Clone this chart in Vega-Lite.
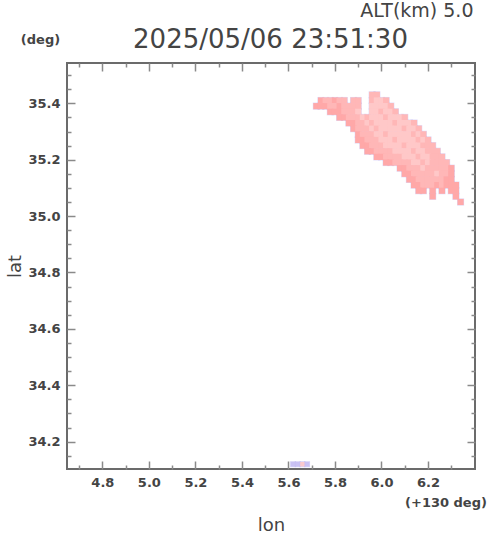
{
  "$schema": "https://vega.github.io/schema/vega-lite/v6.json",
  "width": 408,
  "height": 406,
  "autosize": {"type": "none"},
  "padding": {"left": 67, "top": 63, "right": 15, "bottom": 64},
  "background": "white",
  "config": {
    "view": {"stroke": "#6b6b6b", "strokeWidth": 2},
    "axis": {"grid": false, "domain": false, "zindex": 1, "tickColor": "#8a8a8a", "tickWidth": 1.5,
      "labelFont": "DejaVu Sans", "labelFontWeight": "bold", "labelFontSize": 13, "labelColor": "#444444",
      "titleFont": "DejaVu Sans", "titleColor": "#444444", "titleFontWeight": "normal", "labelOverlap": false, "labelFlush": false, "labelBound": false}
  },
  "datasets": {
    "main": [
      {"lon":135.96,"lat":35.43,"c":"c"},{"lon":135.98,"lat":35.43,"c":"c"},
      {"lon":135.74,"lat":35.41,"c":"d"},{"lon":135.76,"lat":35.41,"c":"c"},{"lon":135.78,"lat":35.41,"c":"c"},{"lon":135.80,"lat":35.41,"c":"d"},{"lon":135.82,"lat":35.41,"c":"c"},{"lon":135.84,"lat":35.41,"c":"c"},{"lon":135.88,"lat":35.41,"c":"c"},{"lon":135.90,"lat":35.41,"c":"c"},{"lon":135.96,"lat":35.41,"c":"c"},{"lon":135.98,"lat":35.41,"c":"b"},{"lon":136.00,"lat":35.41,"c":"b"},{"lon":136.02,"lat":35.41,"c":"c"},
      {"lon":135.72,"lat":35.39,"c":"d"},{"lon":135.74,"lat":35.39,"c":"d"},{"lon":135.76,"lat":35.39,"c":"d"},{"lon":135.78,"lat":35.39,"c":"c"},{"lon":135.80,"lat":35.39,"c":"c"},{"lon":135.82,"lat":35.39,"c":"d"},{"lon":135.84,"lat":35.39,"c":"c"},{"lon":135.86,"lat":35.39,"c":"c"},{"lon":135.88,"lat":35.39,"c":"c"},{"lon":135.90,"lat":35.39,"c":"c"},{"lon":135.96,"lat":35.39,"c":"b"},{"lon":135.98,"lat":35.39,"c":"b"},{"lon":136.00,"lat":35.39,"c":"b"},{"lon":136.02,"lat":35.39,"c":"b"},{"lon":136.04,"lat":35.39,"c":"c"},
      {"lon":135.78,"lat":35.37,"c":"d"},{"lon":135.80,"lat":35.37,"c":"d"},{"lon":135.82,"lat":35.37,"c":"d"},{"lon":135.84,"lat":35.37,"c":"c"},{"lon":135.86,"lat":35.37,"c":"c"},{"lon":135.88,"lat":35.37,"c":"c"},{"lon":135.90,"lat":35.37,"c":"b"},{"lon":135.96,"lat":35.37,"c":"b"},{"lon":135.98,"lat":35.37,"c":"b"},{"lon":136.00,"lat":35.37,"c":"c"},{"lon":136.02,"lat":35.37,"c":"b"},{"lon":136.04,"lat":35.37,"c":"b"},{"lon":136.06,"lat":35.37,"c":"c"},
      {"lon":135.82,"lat":35.35,"c":"d"},{"lon":135.84,"lat":35.35,"c":"d"},{"lon":135.86,"lat":35.35,"c":"c"},{"lon":135.88,"lat":35.35,"c":"c"},{"lon":135.90,"lat":35.35,"c":"c"},{"lon":135.92,"lat":35.35,"c":"b"},{"lon":135.94,"lat":35.35,"c":"c"},{"lon":135.96,"lat":35.35,"c":"b"},{"lon":135.98,"lat":35.35,"c":"b"},{"lon":136.00,"lat":35.35,"c":"b"},{"lon":136.02,"lat":35.35,"c":"c"},{"lon":136.04,"lat":35.35,"c":"b"},{"lon":136.06,"lat":35.35,"c":"b"},{"lon":136.08,"lat":35.35,"c":"b"},{"lon":136.10,"lat":35.35,"c":"c"},
      {"lon":135.86,"lat":35.33,"c":"d"},{"lon":135.88,"lat":35.33,"c":"d"},{"lon":135.90,"lat":35.33,"c":"c"},{"lon":135.92,"lat":35.33,"c":"c"},{"lon":135.94,"lat":35.33,"c":"b"},{"lon":135.96,"lat":35.33,"c":"c"},{"lon":135.98,"lat":35.33,"c":"b"},{"lon":136.00,"lat":35.33,"c":"b"},{"lon":136.02,"lat":35.33,"c":"b"},{"lon":136.04,"lat":35.33,"c":"b"},{"lon":136.06,"lat":35.33,"c":"c"},{"lon":136.08,"lat":35.33,"c":"b"},{"lon":136.10,"lat":35.33,"c":"b"},{"lon":136.12,"lat":35.33,"c":"b"},{"lon":136.14,"lat":35.33,"c":"c"},
      {"lon":135.88,"lat":35.31,"c":"d"},{"lon":135.90,"lat":35.31,"c":"c"},{"lon":135.92,"lat":35.31,"c":"c"},{"lon":135.94,"lat":35.31,"c":"c"},{"lon":135.96,"lat":35.31,"c":"b"},{"lon":135.98,"lat":35.31,"c":"c"},{"lon":136.00,"lat":35.31,"c":"b"},{"lon":136.02,"lat":35.31,"c":"b"},{"lon":136.04,"lat":35.31,"c":"b"},{"lon":136.06,"lat":35.31,"c":"b"},{"lon":136.08,"lat":35.31,"c":"b"},{"lon":136.10,"lat":35.31,"c":"c"},{"lon":136.12,"lat":35.31,"c":"b"},{"lon":136.14,"lat":35.31,"c":"b"},{"lon":136.16,"lat":35.31,"c":"c"},
      {"lon":135.90,"lat":35.29,"c":"d"},{"lon":135.92,"lat":35.29,"c":"c"},{"lon":135.94,"lat":35.29,"c":"c"},{"lon":135.96,"lat":35.29,"c":"c"},{"lon":135.98,"lat":35.29,"c":"b"},{"lon":136.00,"lat":35.29,"c":"b"},{"lon":136.02,"lat":35.29,"c":"c"},{"lon":136.04,"lat":35.29,"c":"b"},{"lon":136.06,"lat":35.29,"c":"b"},{"lon":136.08,"lat":35.29,"c":"b"},{"lon":136.10,"lat":35.29,"c":"b"},{"lon":136.12,"lat":35.29,"c":"b"},{"lon":136.14,"lat":35.29,"c":"c"},{"lon":136.16,"lat":35.29,"c":"b"},{"lon":136.18,"lat":35.29,"c":"c"},
      {"lon":135.90,"lat":35.27,"c":"d"},{"lon":135.92,"lat":35.27,"c":"d"},{"lon":135.94,"lat":35.27,"c":"c"},{"lon":135.96,"lat":35.27,"c":"c"},{"lon":135.98,"lat":35.27,"c":"c"},{"lon":136.00,"lat":35.27,"c":"b"},{"lon":136.02,"lat":35.27,"c":"b"},{"lon":136.04,"lat":35.27,"c":"b"},{"lon":136.06,"lat":35.27,"c":"c"},{"lon":136.08,"lat":35.27,"c":"b"},{"lon":136.10,"lat":35.27,"c":"b"},{"lon":136.12,"lat":35.27,"c":"b"},{"lon":136.14,"lat":35.27,"c":"b"},{"lon":136.16,"lat":35.27,"c":"c"},{"lon":136.18,"lat":35.27,"c":"b"},{"lon":136.20,"lat":35.27,"c":"c"},
      {"lon":135.92,"lat":35.25,"c":"d"},{"lon":135.94,"lat":35.25,"c":"d"},{"lon":135.96,"lat":35.25,"c":"c"},{"lon":135.98,"lat":35.25,"c":"c"},{"lon":136.00,"lat":35.25,"c":"c"},{"lon":136.02,"lat":35.25,"c":"b"},{"lon":136.04,"lat":35.25,"c":"b"},{"lon":136.06,"lat":35.25,"c":"b"},{"lon":136.08,"lat":35.25,"c":"b"},{"lon":136.10,"lat":35.25,"c":"c"},{"lon":136.12,"lat":35.25,"c":"b"},{"lon":136.14,"lat":35.25,"c":"b"},{"lon":136.16,"lat":35.25,"c":"b"},{"lon":136.18,"lat":35.25,"c":"c"},{"lon":136.20,"lat":35.25,"c":"c"},{"lon":136.22,"lat":35.25,"c":"c"},
      {"lon":135.94,"lat":35.23,"c":"d"},{"lon":135.96,"lat":35.23,"c":"d"},{"lon":135.98,"lat":35.23,"c":"c"},{"lon":136.00,"lat":35.23,"c":"c"},{"lon":136.02,"lat":35.23,"c":"c"},{"lon":136.04,"lat":35.23,"c":"c"},{"lon":136.06,"lat":35.23,"c":"b"},{"lon":136.08,"lat":35.23,"c":"b"},{"lon":136.10,"lat":35.23,"c":"b"},{"lon":136.12,"lat":35.23,"c":"b"},{"lon":136.14,"lat":35.23,"c":"c"},{"lon":136.16,"lat":35.23,"c":"b"},{"lon":136.18,"lat":35.23,"c":"b"},{"lon":136.20,"lat":35.23,"c":"c"},{"lon":136.22,"lat":35.23,"c":"c"},{"lon":136.24,"lat":35.23,"c":"c"},
      {"lon":135.98,"lat":35.21,"c":"d"},{"lon":136.00,"lat":35.21,"c":"d"},{"lon":136.02,"lat":35.21,"c":"c"},{"lon":136.04,"lat":35.21,"c":"c"},{"lon":136.06,"lat":35.21,"c":"c"},{"lon":136.08,"lat":35.21,"c":"c"},{"lon":136.10,"lat":35.21,"c":"b"},{"lon":136.12,"lat":35.21,"c":"b"},{"lon":136.14,"lat":35.21,"c":"b"},{"lon":136.16,"lat":35.21,"c":"c"},{"lon":136.18,"lat":35.21,"c":"b"},{"lon":136.20,"lat":35.21,"c":"b"},{"lon":136.22,"lat":35.21,"c":"c"},{"lon":136.24,"lat":35.21,"c":"c"},{"lon":136.26,"lat":35.21,"c":"c"},
      {"lon":136.02,"lat":35.19,"c":"d"},{"lon":136.04,"lat":35.19,"c":"d"},{"lon":136.06,"lat":35.19,"c":"c"},{"lon":136.08,"lat":35.19,"c":"c"},{"lon":136.10,"lat":35.19,"c":"c"},{"lon":136.12,"lat":35.19,"c":"c"},{"lon":136.14,"lat":35.19,"c":"b"},{"lon":136.16,"lat":35.19,"c":"b"},{"lon":136.18,"lat":35.19,"c":"c"},{"lon":136.20,"lat":35.19,"c":"b"},{"lon":136.22,"lat":35.19,"c":"c"},{"lon":136.24,"lat":35.19,"c":"c"},{"lon":136.26,"lat":35.19,"c":"c"},{"lon":136.28,"lat":35.19,"c":"c"},
      {"lon":136.08,"lat":35.17,"c":"d"},{"lon":136.10,"lat":35.17,"c":"d"},{"lon":136.12,"lat":35.17,"c":"c"},{"lon":136.14,"lat":35.17,"c":"c"},{"lon":136.16,"lat":35.17,"c":"c"},{"lon":136.18,"lat":35.17,"c":"b"},{"lon":136.20,"lat":35.17,"c":"c"},{"lon":136.22,"lat":35.17,"c":"c"},{"lon":136.24,"lat":35.17,"c":"c"},{"lon":136.26,"lat":35.17,"c":"c"},{"lon":136.28,"lat":35.17,"c":"c"},{"lon":136.30,"lat":35.17,"c":"d"},
      {"lon":136.10,"lat":35.15,"c":"d"},{"lon":136.12,"lat":35.15,"c":"d"},{"lon":136.14,"lat":35.15,"c":"c"},{"lon":136.16,"lat":35.15,"c":"c"},{"lon":136.18,"lat":35.15,"c":"c"},{"lon":136.20,"lat":35.15,"c":"c"},{"lon":136.22,"lat":35.15,"c":"c"},{"lon":136.24,"lat":35.15,"c":"b"},{"lon":136.26,"lat":35.15,"c":"c"},{"lon":136.28,"lat":35.15,"c":"c"},{"lon":136.30,"lat":35.15,"c":"d"},
      {"lon":136.12,"lat":35.13,"c":"d"},{"lon":136.14,"lat":35.13,"c":"d"},{"lon":136.16,"lat":35.13,"c":"c"},{"lon":136.18,"lat":35.13,"c":"c"},{"lon":136.20,"lat":35.13,"c":"c"},{"lon":136.22,"lat":35.13,"c":"c"},{"lon":136.24,"lat":35.13,"c":"c"},{"lon":136.26,"lat":35.13,"c":"c"},{"lon":136.28,"lat":35.13,"c":"d"},{"lon":136.30,"lat":35.13,"c":"d"},
      {"lon":136.14,"lat":35.11,"c":"d"},{"lon":136.16,"lat":35.11,"c":"d"},{"lon":136.18,"lat":35.11,"c":"c"},{"lon":136.20,"lat":35.11,"c":"c"},{"lon":136.22,"lat":35.11,"c":"c"},{"lon":136.24,"lat":35.11,"c":"d"},{"lon":136.26,"lat":35.11,"c":"c"},{"lon":136.28,"lat":35.11,"c":"d"},{"lon":136.30,"lat":35.11,"c":"d"},{"lon":136.32,"lat":35.11,"c":"d"},
      {"lon":136.16,"lat":35.09,"c":"d"},{"lon":136.18,"lat":35.09,"c":"d"},{"lon":136.22,"lat":35.09,"c":"d"},{"lon":136.26,"lat":35.09,"c":"d"},{"lon":136.30,"lat":35.09,"c":"d"},{"lon":136.32,"lat":35.09,"c":"d"},
      {"lon":136.22,"lat":35.07,"c":"d"},{"lon":136.32,"lat":35.07,"c":"d"},
      {"lon":136.34,"lat":35.05,"c":"d"}
    ],
    "patch": [
      {"lon":135.62,"lat":34.12,"c":"l"},{"lon":135.64,"lat":34.12,"c":"l"},{"lon":135.66,"lat":34.12,"c":"b"},{"lon":135.68,"lat":34.12,"c":"l"}
    ]
  },
  "layer": [
    {
      "data": {"name": "main"},
      "mark": {"type": "square", "size": 50, "color": "#bdb4f2", "opacity": 0.5},
      "encoding": {
        "x": {"field": "lon", "type": "quantitative",
          "scale": {"domain": [134.648, 136.402], "nice": false, "zero": false},
          "axis": {"orient": "bottom", "values": [134.8,135.0,135.2,135.4,135.6,135.8,136.0,136.2],
            "tickSize": -8, "labelPadding": 15,
            "labelExpr": "format(datum.value - 130, '.1f')",
            "title": "lon", "titleFontSize": 18, "titleX": 204, "titleY": 61, "titleBaseline": "alphabetic", "titleAlign": "center"}},
        "y": {"field": "lat", "type": "quantitative",
          "scale": {"domain": [34.103, 35.543], "nice": false, "zero": false},
          "axis": {"orient": "left", "values": [34.2,34.4,34.6,34.8,35.0,35.2,35.4],
            "tickSize": -8, "labelPadding": 15, "format": ".1f",
            "title": "lat", "titleFontSize": 18, "titleX": -47, "titleY": 203, "titleAngle": 270, "titleBaseline": "alphabetic", "titleAlign": "center"}}
      }
    },
    {
      "data": {"name": "main"},
      "mark": {"type": "square", "size": 38, "opacity": 1},
      "encoding": {
        "x": {"field": "lon", "type": "quantitative",
          "scale": {"domain": [134.648, 136.402], "nice": false, "zero": false},
          "axis": {"orient": "bottom", "values": [134.7,134.9,135.1,135.3,135.5,135.7,135.9,136.1,136.3],
            "tickSize": -4, "labels": false, "title": null}},
        "y": {"field": "lat", "type": "quantitative",
          "scale": {"domain": [34.103, 35.543], "nice": false, "zero": false},
          "axis": {"orient": "left", "values": [34.15,34.25,34.3,34.35,34.45,34.5,34.55,34.65,34.7,34.75,34.85,34.9,34.95,35.05,35.1,35.15,35.25,35.3,35.35,35.45,35.5],
            "tickSize": -4, "labels": false,
            "title": "(deg)", "titleFontSize": 13, "titleFontWeight": "bold", "titleAngle": 0, "titleX": -27, "titleY": -20, "titleBaseline": "alphabetic", "titleAlign": "center"}},
        "color": {"field": "c", "type": "nominal", "legend": null,
          "scale": {"domain": ["b", "c", "d", "l"], "range": ["#ffc8c8", "#ffb7b7", "#ffa8a8", "#c9c0f3"]}}
      }
    },
    {
      "data": {"name": "patch"},
      "mark": {"type": "square", "size": 36, "color": "#bdb4f2", "opacity": 0.6},
      "encoding": {
        "x": {"field": "lon", "type": "quantitative",
          "scale": {"domain": [134.648, 136.402], "nice": false, "zero": false},
          "axis": {"orient": "top", "values": [134.8,135.0,135.2,135.4,135.6,135.8,136.0,136.2],
            "tickSize": -8, "labels": false,
            "title": "2025/05/06 23:51:30", "titleFontSize": 26, "titleX": 203, "titleY": -16, "titleBaseline": "alphabetic", "titleAlign": "center"}},
        "y": {"field": "lat", "type": "quantitative",
          "scale": {"domain": [34.103, 35.543], "nice": false, "zero": false},
          "axis": {"orient": "right", "values": [34.2,34.4,34.6,34.8,35.0,35.2,35.4],
            "tickSize": -8, "labels": false,
            "title": "(+130 deg)", "titleFontSize": 13, "titleFontWeight": "bold", "titleAngle": 0, "titleX": -29.5, "titleY": 443, "titleBaseline": "alphabetic", "titleAlign": "center"}}
      }
    },
    {
      "data": {"name": "patch"},
      "mark": {"type": "square", "size": 20, "opacity": 0.9},
      "encoding": {
        "x": {"field": "lon", "type": "quantitative",
          "scale": {"domain": [134.648, 136.402], "nice": false, "zero": false},
          "axis": {"orient": "top", "values": [134.7,134.9,135.1,135.3,135.5,135.7,135.9,136.1,136.3],
            "tickSize": -4, "labels": false,
            "title": "ALT(km) 5.0", "titleFontSize": 19, "titleX": 406, "titleY": -47, "titleBaseline": "alphabetic", "titleAlign": "right"}},
        "y": {"field": "lat", "type": "quantitative",
          "scale": {"domain": [34.103, 35.543], "nice": false, "zero": false},
          "axis": {"orient": "right", "values": [34.15,34.25,34.3,34.35,34.45,34.5,34.55,34.65,34.7,34.75,34.85,34.9,34.95,35.05,35.1,35.15,35.25,35.3,35.35,35.45,35.5],
            "tickSize": -4, "labels": false, "title": null}},
        "color": {"field": "c", "type": "nominal", "legend": null,
          "scale": {"domain": ["b", "c", "d", "l"], "range": ["#ffc8c8", "#ffb7b7", "#ffa8a8", "#c9c0f3"]}}
      }
    }
  ],
  "resolve": {"axis": {"x": "independent", "y": "independent"}}
}
